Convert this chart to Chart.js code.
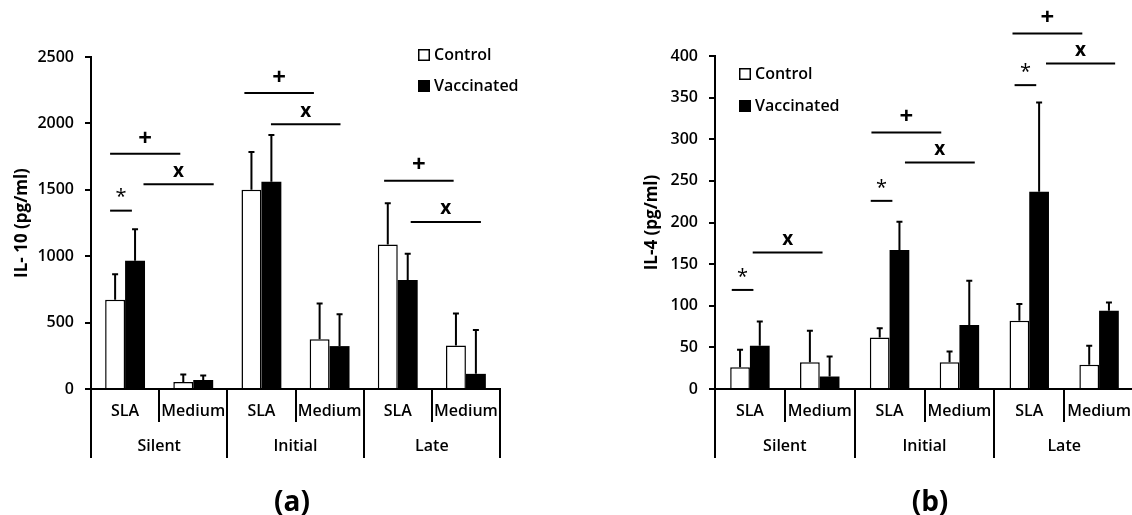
<!DOCTYPE html>
<html>
<head>
<meta charset="utf-8">
<script src="https://cdn.jsdelivr.net/npm/chart.js@4"></script>
<style>
  html, body { margin: 0; padding: 0; background: #fff; overflow: hidden; }
  body { width: 1132px; height: 515px; position: relative; }
  .panel { position: absolute; top: 0; height: 515px; }
  .cap { position: absolute; top: 481px; width: 100px; text-align: center; line-height: 34px;
         font: bold 28px 'Open Sans', sans-serif; color: #000; }
</style>
</head>
<body>
<div class="panel" style="left:0;width:560px"><canvas id="il10Chart" width="560" height="515"></canvas></div>
<div class="panel" style="left:600px;width:560px"><canvas id="il4Chart" width="560" height="515"></canvas></div>
<div class="cap" style="left:242px">(a)</div>
<div class="cap" style="left:880px">(b)</div>
<script>
// Categories
const subLabels = ['SLA', 'Medium', 'SLA', 'Medium', 'SLA', 'Medium'];
const groupLabels = ['Silent', 'Initial', 'Late'];
const seriesNames = ['Control', 'Vaccinated'];

// (a) IL-10, mean and SD
const il10Control = [672, 53, 1501, 374, 1089, 328];
const il10ControlSD = [192, 56, 283, 270, 310, 240];
const il10Vacc = [965, 68, 1560, 323, 821, 114];
const il10VaccSD = [237, 33, 353, 240, 197, 330];
const il10Ticks = [0, 500, 1000, 1500, 2000, 2500];
// significance bars: [symbol, from (category index), to, level]
const il10Sig = [
  ['*', -0.22, 0.10, 1343],
  ['+', -0.22, 0.81, 1772],
  ['x', 0.27, 1.30, 1541],
  ['+', 1.75, 2.77, 2229],
  ['x', 2.14, 3.16, 1993],
  ['+', 3.80, 4.82, 1569],
  ['x', 4.19, 5.22, 1257]
];

// (b) IL-4, mean and SD
const il4Control = [26, 32, 62, 32, 82, 29];
const il4ControlSD = [21, 38, 11, 13, 20, 23];
const il4Vacc = [52, 15, 167, 77, 237, 94];
const il4VaccSD = [29, 24, 34, 53, 107, 10];
const il4Ticks = [0, 50, 100, 150, 200, 250, 300, 350, 400];
const il4Sig = [
  ['*', -0.26, 0.05, 119],
  ['x', 0.04, 1.04, 164],
  ['*', 1.73, 2.04, 226],
  ['+', 1.74, 2.74, 308],
  ['x', 2.22, 3.22, 272],
  ['*', 3.79, 4.10, 365],
  ['+', 3.76, 4.76, 427],
  ['x', 4.24, 5.23, 391]
];

Chart.defaults.font.family = "'Open Sans', sans-serif";
Chart.defaults.font.size = 16;
Chart.defaults.font.weight = '600';
Chart.defaults.color = '#000';

// error bars (upper only, with cap)
const errorBars = {
  id: 'errorBars',
  afterDatasetsDraw(chart) {
    const ctx = chart.ctx;
    const y = chart.scales.y;
    ctx.save();
    ctx.strokeStyle = '#000';
    ctx.lineWidth = 2;
    chart.data.datasets.forEach((ds, di) => {
      chart.getDatasetMeta(di).data.forEach((bar, i) => {
        const top = y.getPixelForValue(ds.data[i] + ds.sd[i]);
        ctx.beginPath();
        ctx.moveTo(bar.x, bar.y);
        ctx.lineTo(bar.x, top);
        ctx.moveTo(bar.x - 3, top);
        ctx.lineTo(bar.x + 3, top);
        ctx.stroke();
      });
    });
    ctx.restore();
  }
};

// significance lines with symbol above
const sigMarks = {
  id: 'sigMarks',
  afterDraw(chart, args, opts) {
    const ctx = chart.ctx;
    const x = chart.scales.x, y = chart.scales.y;
    const lift = { '*': 13, '+': 15, 'x': 13 };
    const font = { '*': '20px', '+': 'bold 24px', 'x': 'bold 19px' };
    ctx.save();
    ctx.strokeStyle = '#000';
    ctx.fillStyle = '#000';
    ctx.lineWidth = 2;
    ctx.textAlign = 'center';
    ctx.textBaseline = 'middle';
    opts.marks.forEach(([sym, from, to, level]) => {
      const x1 = x.getPixelForValue(from), x2 = x.getPixelForValue(to);
      const py = y.getPixelForValue(level);
      ctx.beginPath();
      ctx.moveTo(x1, py);
      ctx.lineTo(x2, py);
      ctx.stroke();
      ctx.font = font[sym] + " 'Open Sans', sans-serif";
      ctx.fillText(sym, (x1 + x2) / 2, py - lift[sym]);
    });
    ctx.restore();
  }
};

// small square legend inside the plot
const boxLegend = {
  id: 'boxLegend',
  afterDraw(chart, args, opts) {
    const ctx = chart.ctx;
    ctx.save();
    ctx.font = "600 16px 'Open Sans', sans-serif";
    ctx.textBaseline = 'middle';
    ctx.textAlign = 'left';
    chart.data.datasets.forEach((ds, i) => {
      const top = opts.y + i * opts.gap;
      ctx.fillStyle = ds.backgroundColor;
      ctx.fillRect(opts.x, top, 12, 12);
      ctx.strokeStyle = '#000';
      ctx.lineWidth = 1.5;
      ctx.strokeRect(opts.x + 0.75, top + 0.75, 10.5, 10.5);
      ctx.fillStyle = '#000';
      ctx.fillText(ds.label, opts.x + 16, top + 6);
    });
    ctx.restore();
  }
};

function makeChart(id, cfg) {
  const ticks = cfg.ticks;
  return new Chart(document.getElementById(id), {
    type: 'bar',
    data: {
      labels: subLabels,
      datasets: [
        { label: seriesNames[0], data: cfg.control, sd: cfg.controlSD, backgroundColor: '#fff',
          borderColor: '#000', borderWidth: 1.5, barPercentage: 1, categoryPercentage: cfg.catPct },
        { label: seriesNames[1], data: cfg.vacc, sd: cfg.vaccSD, backgroundColor: '#000',
          borderColor: '#000', borderWidth: 0, barPercentage: 1, categoryPercentage: cfg.catPct }
      ]
    },
    options: {
      responsive: false,
      animation: false,
      devicePixelRatio: 1,
      layout: { padding: { top: cfg.padTop, right: cfg.padRight, bottom: 57, left: 0 } },
      plugins: {
        legend: { display: false },
        tooltip: { enabled: false },
        sigMarks: { marks: cfg.sig },
        boxLegend: cfg.legend
      },
      scales: {
        y: {
          min: ticks[0],
          max: ticks[ticks.length - 1],
          ticks: { stepSize: ticks[1] - ticks[0], padding: 11, callback: v => String(v) },
          grid: { drawOnChartArea: false, tickLength: 6, color: '#000', lineWidth: 2 },
          border: { color: '#000', width: 2 },
          title: { display: true, text: cfg.yTitle, font: { size: 17, weight: 'bold' },
                   padding: { top: cfg.titlePad, bottom: 0 } },
          afterFit: s => { s.width = cfg.yWidth; }
        },
        x: {
          ticks: { padding: -20, autoSkip: false, maxRotation: 0 },
          grid: { offset: true, drawOnChartArea: false, tickLength: 33, color: '#000', lineWidth: 2 },
          border: { color: '#000', width: 2 },
          afterFit: s => { s.height = 33; }
        },
        x2: {
          type: 'category',
          labels: groupLabels,
          position: 'bottom',
          weight: 1,
          offset: true,
          ticks: { padding: -21, autoSkip: false, maxRotation: 0 },
          grid: { offset: true, drawOnChartArea: false, tickLength: 36, color: '#000', lineWidth: 2 },
          border: { display: false },
          afterFit: s => { s.height = 36; }
        }
      }
    },
    plugins: [errorBars, sigMarks, boxLegend]
  });
}

makeChart('il10Chart', {
  control: il10Control, controlSD: il10ControlSD, vacc: il10Vacc, vaccSD: il10VaccSD,
  ticks: il10Ticks, sig: il10Sig, yTitle: 'IL- 10 (pg/ml)',
  yWidth: 91, titlePad: 12, padTop: 57, padRight: 60, catPct: 0.585,
  legend: { x: 418, y: 49, gap: 31 }
});

makeChart('il4Chart', {
  control: il4Control, controlSD: il4ControlSD, vacc: il4Vacc, vaccSD: il4VaccSD,
  ticks: il4Ticks, sig: il4Sig, yTitle: 'IL-4 (pg/ml)',
  yWidth: 115, titlePad: 42, padTop: 56, padRight: 26, catPct: 0.565,
  legend: { x: 139, y: 68, gap: 32 }
});
</script>
</body>
</html>
